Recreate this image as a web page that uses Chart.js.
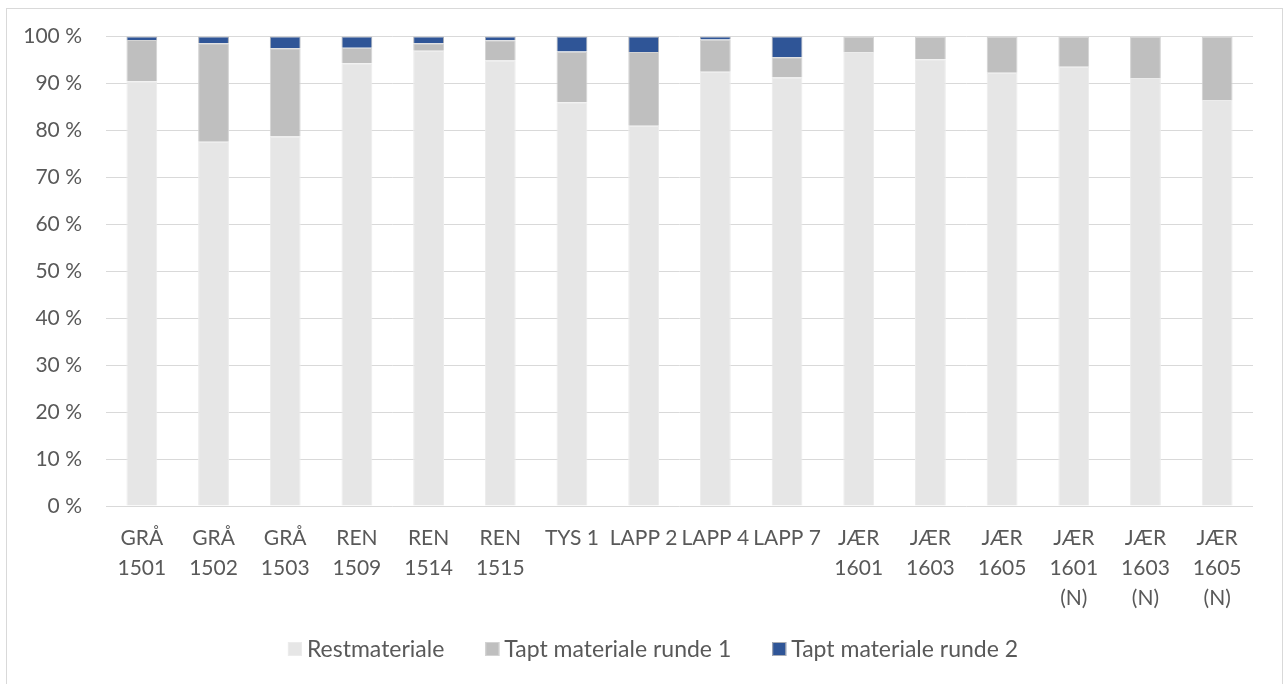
<!DOCTYPE html>
<html>
<head>
<meta charset="utf-8">
<script src="https://cdn.jsdelivr.net/npm/chart.js@4/dist/chart.umd.min.js"></script>
<style>
  html, body { margin: 0; padding: 0; background: #ffffff; }
  #wrap { position: relative; width: 1285px; height: 684px; }
</style>
</head>
<body>
<div id="wrap"><canvas id="c" width="1285" height="684"></canvas></div>
<script>
// Categories (multi-line labels)
const categories = [
  ['GRÅ', '1501'], ['GRÅ', '1502'], ['GRÅ', '1503'],
  ['REN', '1509'], ['REN', '1514'], ['REN', '1515'],
  'TYS 1', 'LAPP 2', 'LAPP 4', 'LAPP 7',
  ['JÆR', '1601'], ['JÆR', '1603'], ['JÆR', '1605'],
  ['JÆR', '1601', '(N)'], ['JÆR', '1603', '(N)'], ['JÆR', '1605', '(N)']
];

// Share of material, percent
const restmateriale = [90.5, 77.6, 78.7, 94.3, 97.0, 94.9, 86.0, 81.0, 92.5, 91.3, 96.7, 95.2, 92.3, 93.6, 91.2, 86.5];
const taptRunde1    = [8.8, 21.0, 18.8, 3.3, 1.6, 4.3, 10.8, 15.7, 6.9, 4.3, 3.3, 4.8, 7.7, 6.4, 8.8, 13.5];
const taptRunde2    = [0.7, 1.4, 2.5, 2.4, 1.4, 0.8, 3.2, 3.3, 0.6, 4.4, 0, 0, 0, 0, 0, 0];

const seriesNames = ['Restmateriale', 'Tapt materiale runde 1', 'Tapt materiale runde 2'];

// Y axis ticks
const yTicks = [0, 10, 20, 30, 40, 50, 60, 70, 80, 90, 100];

const FONT = 'Lato, "Open Sans", sans-serif';
const TEXT = '#595959';

// Thin frame around the whole chart
const framePlugin = {
  id: 'frame',
  beforeDraw(chart) {
    const ctx = chart.ctx;
    ctx.save();
    ctx.fillStyle = '#ffffff';
    ctx.fillRect(0, 0, chart.width, chart.height);
    ctx.strokeStyle = '#d9d9d9';
    ctx.lineWidth = 1;
    ctx.strokeRect(6.5, 8.5, 1276, 690);
    ctx.restore();
  }
};

// Legend row under the axis: small square swatch tight against its label
const legendRow = {
  id: 'legendRow',
  afterDraw(chart) {
    const ctx = chart.ctx;
    const box = 14, gap = 5, itemGap = 41, cy = 649, cx = 653;
    ctx.save();
    ctx.font = '23px ' + FONT;
    ctx.textBaseline = 'middle';
    const items = chart.data.datasets.map(ds => ({
      label: ds.label, fill: ds.backgroundColor, stroke: ds.borderColor,
      w: ctx.measureText(ds.label).width
    }));
    let total = 0;
    items.forEach((it, i) => { total += box + gap + it.w + (i ? itemGap : 0); });
    let x = cx - total / 2;
    items.forEach(it => {
      ctx.fillStyle = it.fill;
      ctx.fillRect(x, cy - box / 2, box, box);
      ctx.strokeStyle = it.stroke;
      ctx.lineWidth = 1;
      ctx.strokeRect(x + 0.5, cy - box / 2 + 0.5, box - 1, box - 1);
      ctx.fillStyle = TEXT;
      ctx.fillText(it.label, x + box + gap, cy + 1);
      x += box + gap + it.w + itemGap;
    });
    ctx.restore();
  }
};

new Chart(document.getElementById('c'), {
  type: 'bar',
  data: {
    labels: categories,
    datasets: [
      { label: seriesNames[0], data: restmateriale, backgroundColor: '#e6e6e6', borderColor: '#ececec', borderWidth: 1 },
      { label: seriesNames[1], data: taptRunde1, backgroundColor: '#bfbfbf', borderColor: '#d3d3d3', borderWidth: 1 },
      { label: seriesNames[2], data: taptRunde2, backgroundColor: '#2f5597', borderColor: '#a9adb5', borderWidth: 1 }
    ]
  },
  options: {
    responsive: false,
    animation: false,
    maintainAspectRatio: false,
    layout: { padding: { top: 28, right: 32, left: 0, bottom: 66 } },
    datasets: { bar: { categoryPercentage: 1, barPercentage: 0.43 } },
    scales: {
      x: {
        stacked: true,
        grid: { display: false },
        border: { display: false },
        ticks: {
          autoSkip: false, maxRotation: 0, minRotation: 0,
          color: TEXT, padding: 9,
          font: { family: FONT, size: 21, lineHeight: 1.43 }
        },
        afterFit(scale) { scale.height = 112; }
      },
      y: {
        stacked: true,
        min: 0, max: 100,
        afterBuildTicks(scale) { scale.ticks = yTicks.map(v => ({ value: v })); },
        grid: { color: '#d9d9d9', lineWidth: 1, drawTicks: false },
        border: { display: false },
        ticks: {
          color: TEXT, padding: 24,
          font: { family: FONT, size: 21 },
          callback: v => v + ' %'
        },
        afterFit(scale) { scale.width = 106; }
      }
    },
    plugins: {
      tooltip: { enabled: false },
      legend: { display: false }
    }
  },
  plugins: [framePlugin, legendRow]
});
</script>
</body>
</html>
